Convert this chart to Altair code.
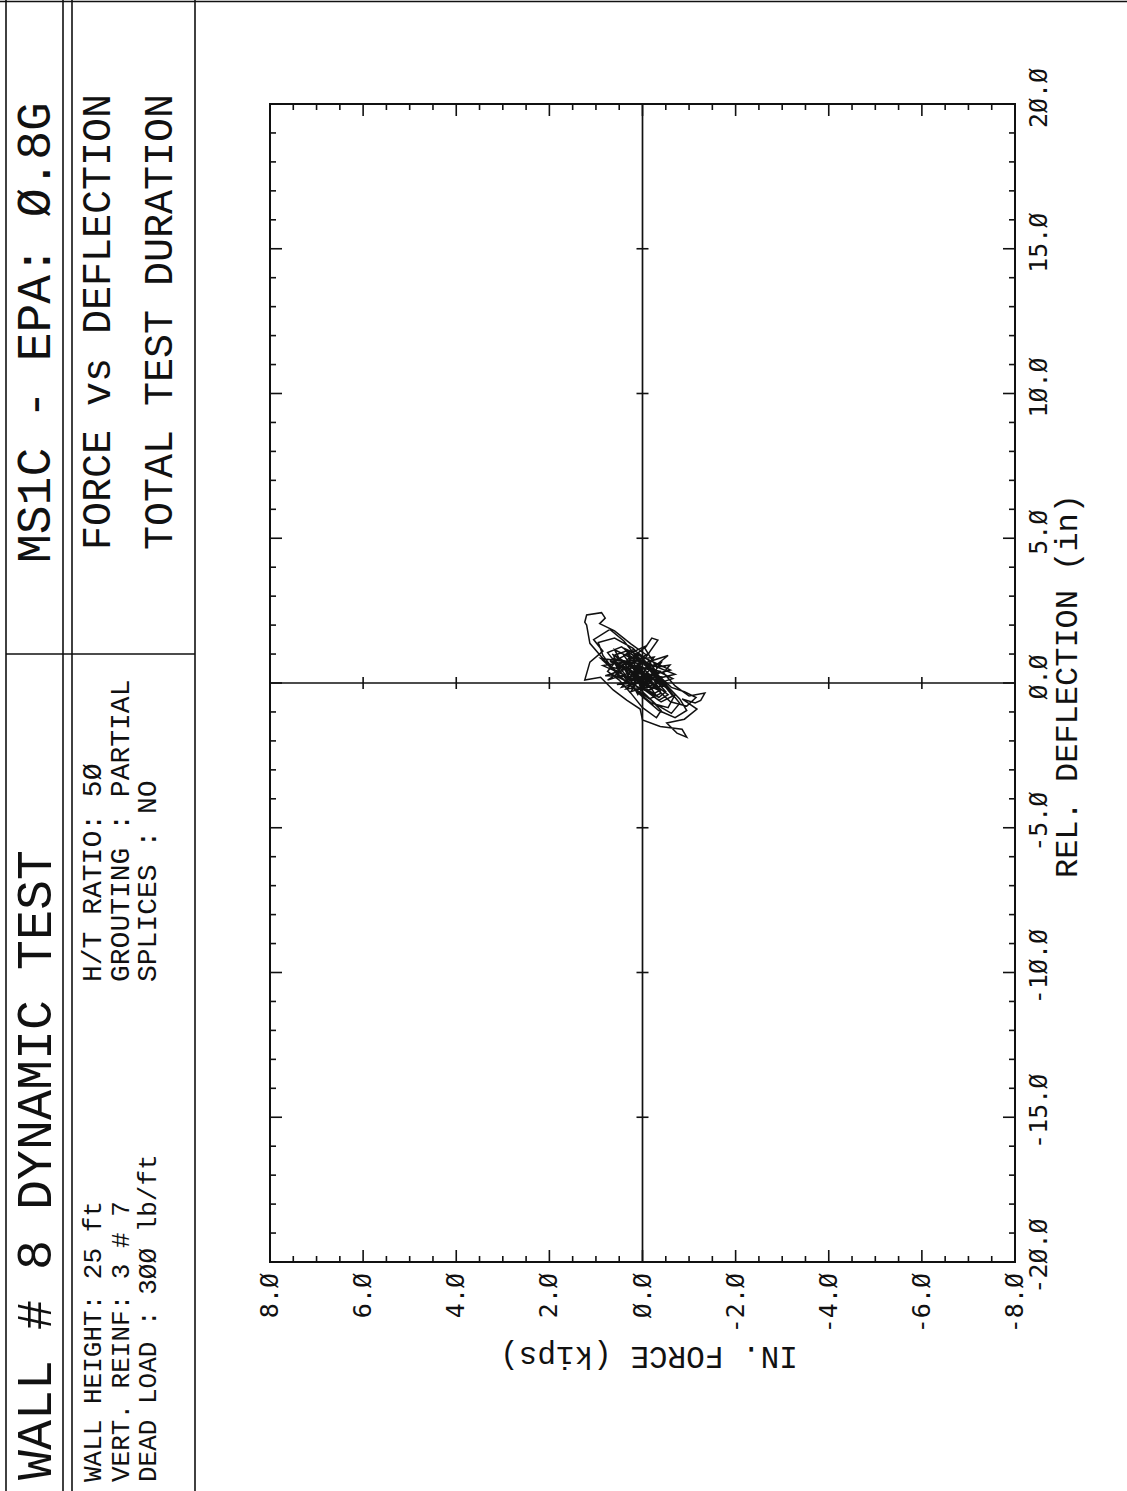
import altair as alt
import pandas as pd

# ---- measured trace: inertial force (kips) vs relative deflection (in), in time order
force = [
    0.00, 0.12, -0.10, 0.20, -0.18, 0.30, 0.05, -0.25, -0.40, -0.15,
    0.25, 0.50, 0.62, 0.35, -0.05, -0.45, -0.70, -0.55, -0.20, 0.15,
    0.55, 0.85, 0.95, 0.60, 0.20, -0.15, -0.50, -0.80, -0.95, -0.70,
    -0.35, 0.05, 0.45, 0.80, 1.13, 1.20, 1.24, 1.20, 0.88, 0.80,
    0.92, 0.60, 0.25, -0.10, -0.33, -0.20, -0.05, -0.30, -0.59, -0.45,
    -0.70, -1.00, -1.34, -1.25, -1.13, -0.85, -1.17, -0.90, -0.52, -0.74,
    -0.95, -0.85, -0.38, 0.00, 0.05, 0.34, 0.63, 0.90, 1.24, 1.13,
    0.85, 1.05, 0.70, 0.40, 0.10, -0.25, -0.55, -0.80, -0.62, -0.30,
    0.00, 0.30, 0.55, 0.75, 0.45, 0.15, -0.20, -0.45, -0.65, -0.40,
    -0.10, 0.20, 0.45, 0.30, 0.05, -0.25, -0.50, -0.35, -0.05, 0.25,
    0.40, 0.10, -0.15, -0.38, -0.20, 0.05, 0.30, 0.15, -0.10, -0.30,
    -0.12, 0.10, 0.22, 0.02, -0.18, -0.05, 0.08, 0.00, 0.15, 0.40,
    0.20, -0.12, -0.35, -0.62, -0.90, -1.15, -0.95, -0.60, -0.30, 0.05,
    0.35, 0.65, 0.50, 0.20, -0.10, -0.40, -0.30, 0.00, 0.25, 0.50,
    0.75, 0.60, 0.30, 0.00, -0.30, -0.55, -0.35, -0.05, 0.20, 0.10,
    -0.15, -0.35, -0.20, 0.05, 0.15, 0.70, -0.45, 0.80, -0.55, 0.35,
    -0.50, 0.65, -0.20, 0.55, -0.60, 0.40, -0.35, 0.85, -0.25, 0.25,
    -0.65, 0.60, 0.10, -0.40, 0.75, -0.15, 0.45, -0.70, 0.30, -0.05,
    0.90, -0.50, 0.20, -0.30, 0.65, -0.10, 0.50, -0.55, 0.15, 0.35,
    -0.40, 0.70, -0.25, 0.05, 0.00,
]
deflection = [
    0.00, 0.18, -0.12, 0.35, -0.20, 0.50, 0.62, 0.10, -0.35, -0.55,
    -0.10, 0.45, 0.95, 1.10, 0.70, 0.05, -0.40, -0.85, -0.70, -0.25,
    0.30, 0.95, 1.40, 1.55, 1.20, 0.60, -0.05, -0.55, -0.95, -1.20,
    -0.95, -0.40, 0.20, 0.75, 1.37, 2.00, 2.10, 2.35, 2.43, 2.24,
    2.05, 1.80, 1.35, 0.95, 1.48, 1.55, 1.20, 0.55, 0.62, 0.35,
    -0.10, -0.45, -0.35, -0.60, -0.69, -0.55, -0.90, -1.25, -1.38, -1.73,
    -1.87, -1.60, -1.50, -1.28, -0.90, -0.59, -0.24, 0.20, 0.10, 0.72,
    1.10, 1.50, 1.85, 1.45, 0.85, 0.30, -0.20, -0.70, -1.05, -0.75,
    -0.30, 0.15, 0.65, 1.05, 1.25, 0.90, 0.40, -0.05, -0.45, -0.65,
    -0.30, 0.20, 0.55, 0.85, 0.60, 0.15, -0.30, -0.50, -0.15, 0.35,
    0.70, 0.55, 0.10, -0.25, -0.40, 0.00, 0.45, 0.60, 0.25, -0.15,
    -0.25, 0.10, 0.35, 0.30, 0.00, -0.10, 0.12, 0.05, 0.40, 0.95,
    1.15, 0.80, 0.25, -0.15, -0.30, -0.50, -0.80, -0.65, -0.20, 0.35,
    0.75, 0.85, 0.40, 0.00, -0.45, -0.95, -1.20, -0.85, -0.35, 0.10,
    0.40, 0.70, 0.50, 0.15, -0.10, -0.40, -0.60, -0.25, 0.25, 0.60,
    0.45, 0.05, -0.20, 0.20, 0.05, 0.55, 0.20, 0.25, 0.95, -0.20,
    -0.10, 1.00, 0.05, -0.05, 0.45, 1.20, -0.25, 0.60, 0.90, -0.30,
    0.15, 1.15, -0.40, 0.70, 0.10, 1.05, -0.15, 0.30, 0.95, -0.55,
    0.85, 0.55, 0.70, -0.45, 0.30, 1.30, 0.85, -0.20, 1.00, 0.05,
    0.40, 0.75, -0.05, 0.50, 0.00,
]

# ---- tick values and their printed labels (plotter style, slashed zeros)
force_labels = [8, 6, 4, 2, 0, -2, -4, -6, -8]
force_label_text = ["8.Ø", "6.Ø", "4.Ø", "2.Ø", "Ø.Ø", "-2.Ø", "-4.Ø", "-6.Ø", "-8.Ø"]
defl_labels = [20, 15, 10, 5, 0, -5, -10, -15, -20]
defl_label_text = ["2Ø.Ø", "15.Ø", "1Ø.Ø", "5.Ø", "Ø.Ø", "-5.Ø", "-1Ø.Ø", "-15.Ø", "-2Ø.Ø"]
force_minor = [i * 0.5 for i in range(-16, 17)]
defl_minor = list(range(-20, 21))
force_cross = [6, 4, 2, -2, -4, -6]
defl_cross = [15, 10, 5, -5, -10, -15]

x_title = "IN. FORCE (kips)"
y_title = "REL. DEFLECTION (in)"

# ---- header text
title_left = "WALL # 8 DYNAMIC TEST"
title_right = "MS1C - EPA: Ø.8G"
specs_a = ["WALL HEIGHT: 25 ft", "VERT. REINF: 3 # 7", "DEAD LOAD   : 3ØØ lb/ft"]
specs_b = ["H/T RATIO: 5Ø", "GROUTING : PARTIAL", "SPLICES  : NO"]
plot_caption = ["FORCE vs DEFLECTION", "TOTAL TEST DURATION"]

# ---- layout (plot area is W x H, placed at LEFT, TOP on the page)
W, H = 745, 1158
LEFT, TOP = 270, 104
PAGE_W, PAGE_H = 1127, 1491
HFONT = "Liberation Mono"
LFONT = "DejaVu Sans Mono"
INK = "#111111"

xs = alt.Scale(domain=[-8, 8], reverse=True, nice=False, zero=False)
ys = alt.Scale(domain=[-20, 20], nice=False, zero=False)

trace = pd.DataFrame({"i": list(range(len(force))), "F": force, "D": deflection})

curve = alt.Chart(trace).mark_line(color=INK, strokeWidth=1.5).encode(
    x=alt.X("F:Q", scale=xs, axis=None),
    y=alt.Y("D:Q", scale=ys, axis=None),
    order=alt.Order("i:Q"),
)

# zero lines through the plot
origin = pd.DataFrame({"F": [0.0], "D": [0.0]})
zero_v = alt.Chart(origin).mark_rule(color=INK, strokeWidth=1.7).encode(
    x=alt.X("F:Q", scale=xs, axis=None), y=alt.value(0), y2=alt.value(H))
zero_h = alt.Chart(origin).mark_rule(color=INK, strokeWidth=1.7).encode(
    y=alt.Y("D:Q", scale=ys, axis=None), x=alt.value(0), x2=alt.value(W))

fdf = pd.DataFrame({"F": force_minor})
fdf["len"] = [12 if v % 2 == 0 else 6 for v in force_minor]
ddf = pd.DataFrame({"D": defl_minor})
ddf["len"] = [12 if v % 5 == 0 else 6 for v in defl_minor]


def edge_ticks(df, field, scale, fixed, sign, horizontal_edge):
    layers = []
    for ln in (6, 12):
        sub = df[df["len"] == ln].reset_index(drop=True)
        if horizontal_edge:
            enc = dict(x=alt.X(f"{field}:Q", scale=scale, axis=None),
                       y=alt.value(fixed), y2=alt.value(fixed + sign * ln))
        else:
            enc = dict(y=alt.Y(f"{field}:Q", scale=scale, axis=None),
                       x=alt.value(fixed), x2=alt.value(fixed + sign * ln))
        layers.append(alt.Chart(sub).mark_rule(color=INK, strokeWidth=1.6).encode(**enc))
    return layers


ticks = []
ticks += edge_ticks(fdf, "F", xs, H, -1, True)    # bottom edge
ticks += edge_ticks(fdf, "F", xs, 0, 1, True)     # top edge
ticks += edge_ticks(ddf, "D", ys, 0, 1, False)    # left edge
ticks += edge_ticks(ddf, "D", ys, W, -1, False)   # right edge

# cross marks on the zero lines
cf = pd.DataFrame({"F": force_cross, "D": [0.0] * len(force_cross)})
cross_h = alt.Chart(cf).mark_rule(
    color=INK, strokeWidth=1.6, yOffset=-6, y2Offset=6).encode(
    x=alt.X("F:Q", scale=xs, axis=None),
    y=alt.Y("D:Q", scale=ys, axis=None), y2="D:Q")
cd = pd.DataFrame({"D": defl_cross, "F": [0.0] * len(defl_cross)})
cross_v = alt.Chart(cd).mark_rule(
    color=INK, strokeWidth=1.6, xOffset=-6, x2Offset=6).encode(
    y=alt.Y("D:Q", scale=ys, axis=None),
    x=alt.X("F:Q", scale=xs, axis=None), x2="F:Q")

# tick labels, rotated to read upward
fl = pd.DataFrame({"F": force_labels, "t": force_label_text})
force_text = alt.Chart(fl).mark_text(
    angle=270, align="right", baseline="middle", font=LFONT, fontSize=25,
    color=INK).encode(
    x=alt.X("F:Q", scale=xs, axis=None), y=alt.value(H + 11), text="t:N")
dl = pd.DataFrame({"D": defl_labels, "t": defl_label_text})
defl_text = alt.Chart(dl).mark_text(
    angle=270, align="center", baseline="top", font=LFONT, fontSize=25,
    color=INK, dx=6).encode(
    y=alt.Y("D:Q", scale=ys, axis=None), x=alt.value(W + 12), text="t:N")

x_title_mark = alt.Chart(pd.DataFrame({"t": [x_title]})).mark_text(
    angle=180, align="center", baseline="middle", font=HFONT, fontSize=31,
    color=INK).encode(x=alt.value(379), y=alt.value(H + 94), text="t:N")
y_title_mark = alt.Chart(pd.DataFrame({"t": [y_title]})).mark_text(
    angle=270, align="center", baseline="middle", font=HFONT, fontSize=32,
    color=INK).encode(x=alt.value(W + 52), y=alt.value(H / 2 + 3), text="t:N")


# ---- header block (page coordinates converted to plot-area coordinates)
def px(x):
    return x - LEFT


def py(y):
    return y - TOP


one = pd.DataFrame({"k": [0]})


def rule(x1, y1, x2, y2, w=1.6):
    return alt.Chart(one).mark_rule(color=INK, strokeWidth=w).encode(
        x=alt.value(px(x1)), y=alt.value(py(y1)),
        x2=alt.value(px(x2)), y2=alt.value(py(y2)))


def vtext(s, x, y, size):
    return alt.Chart(pd.DataFrame({"s": [s]})).mark_text(
        angle=270, align="left", baseline="middle", font=HFONT,
        fontSize=size, color=INK).encode(
        x=alt.value(px(x)), y=alt.value(py(y)), text="s:N")


header = [
    rule(6, 0, 6, PAGE_H), rule(63, 0, 63, PAGE_H), rule(72, 0, 72, PAGE_H),
    rule(195, 0, 195, PAGE_H), rule(6, 654, 195, 654),
    rule(0, 1.5, PAGE_W, 1.5),
    vtext(title_left, 36, 1480, 50),
    vtext(title_right, 36, 563, 48),
    vtext(plot_caption[0], 98, 550, 40),
    vtext(plot_caption[1], 160, 550, 40),
]
for s, x in zip(specs_a, (93, 121, 148)):
    header.append(vtext(s, x, 1482, 26))
for s, x in zip(specs_b, (93, 121, 148)):
    header.append(vtext(s, x, 982, 28))

chart = alt.layer(
    zero_v, zero_h, *ticks, cross_h, cross_v, curve,
    force_text, defl_text, x_title_mark, y_title_mark, *header
).properties(
    width=W, height=H,
    padding={"left": LEFT, "top": TOP, "right": PAGE_W - LEFT - W,
             "bottom": PAGE_H - TOP - H},
    autosize=alt.AutoSizeParams(type="none"),
    background="white",
).configure_view(stroke=INK, strokeWidth=2)

chart.save("out.html", embed_options={"renderer": "svg", "actions": False})
